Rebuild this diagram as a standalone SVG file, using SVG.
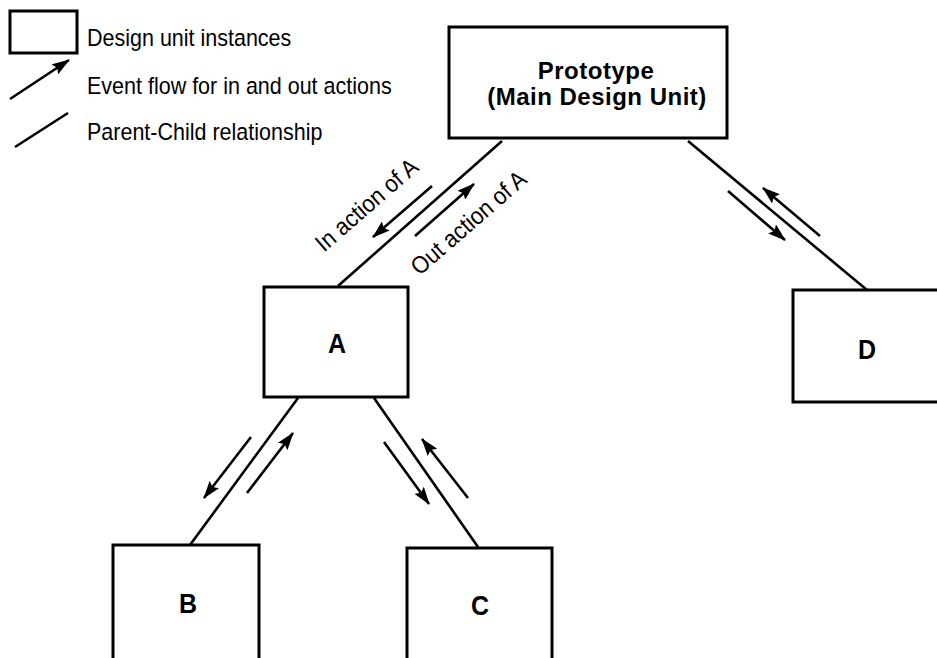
<svg xmlns="http://www.w3.org/2000/svg" width="937" height="658" viewBox="0 0 937 658">
  <style>
    .box { fill: #fff; stroke: #000; stroke-width: 3; }
    .link { stroke: #000; stroke-width: 2.6; fill: none; }
    .flow { stroke: #000; stroke-width: 2.6; fill: none; marker-end: url(#head); }
    .legend { font-family: "Liberation Sans", Arial, sans-serif; font-size: 21.5px; fill: #000; }
    .name { font-family: "Liberation Sans", Arial, sans-serif; font-size: 25px; font-weight: bold; fill: #000; text-anchor: middle; }
    .title { font-size: 24px; letter-spacing: 0.5px; }
    .edge { font-family: "Liberation Sans", Arial, sans-serif; font-size: 22px; fill: #000; text-anchor: middle; }
  </style>
  <defs>
    <marker id="head" markerUnits="userSpaceOnUse" markerWidth="20" markerHeight="12" refX="17" refY="6" orient="auto">
      <path d="M0,0 L18,6 L0,12 L3,6 z" fill="#000"/>
    </marker>
  </defs>
  <rect width="937" height="658" fill="#fff"/>

  <!-- legend -->
  <g id="legend">
    <rect class="box" x="10" y="11" width="67" height="42"/>
    <text class="legend" transform="translate(87,46) scale(1,1.1)">Design unit instances</text>
    <line class="flow" x1="10" y1="99" x2="69" y2="60"/>
    <text class="legend" transform="translate(87,94) scale(1,1.1)">Event flow for in and out actions</text>
    <line class="link" x1="15" y1="147" x2="68" y2="113"/>
    <text class="legend" transform="translate(87,140) scale(1,1.1)">Parent-Child relationship</text>
  </g>

  <!-- parent-child links and event flows -->
  <g id="connectors">
    <line class="link" x1="502" y1="141" x2="338" y2="286"/>
    <line class="link" x1="688" y1="141" x2="867" y2="290"/>
    <line class="link" x1="298" y1="398" x2="190" y2="545"/>
    <line class="link" x1="374" y1="398" x2="478" y2="547"/>

    <line class="flow" x1="432" y1="186" x2="373" y2="237"/>
    <line class="flow" x1="415" y1="236" x2="474" y2="184"/>
    <text class="edge" transform="translate(372,211) rotate(-41) scale(1,1.1)">In action of A</text>
    <text class="edge" transform="translate(474,229) rotate(-41) scale(1,1.1)">Out action of A</text>

    <line class="flow" x1="728" y1="191" x2="785" y2="240"/>
    <line class="flow" x1="820" y1="236" x2="763" y2="188"/>

    <line class="flow" x1="251" y1="437" x2="204" y2="498"/>
    <line class="flow" x1="247" y1="493" x2="293" y2="433"/>

    <line class="flow" x1="384" y1="442" x2="429" y2="504"/>
    <line class="flow" x1="468" y1="498" x2="422" y2="439"/>
  </g>

  <g id="prototype">
    <rect class="box" x="449" y="27" width="278" height="111"/>
    <text class="name title"><tspan x="596" y="79">Prototype</tspan><tspan x="597" y="105">(Main Design Unit)</tspan></text>
  </g>
  <g id="unit-a">
    <rect class="box" x="264" y="287" width="144" height="110"/>
    <text class="name" transform="translate(337,353) scale(1,1.1)">A</text>
  </g>
  <g id="unit-d">
    <rect class="box" x="793" y="290" width="146" height="112"/>
    <text class="name" transform="translate(867,359) scale(1,1.1)">D</text>
  </g>
  <g id="unit-b">
    <rect class="box" x="113" y="545" width="146" height="115"/>
    <text class="name" transform="translate(188,613) scale(1,1.1)">B</text>
  </g>
  <g id="unit-c">
    <rect class="box" x="407" y="548" width="145" height="112"/>
    <text class="name" transform="translate(480,615) scale(1,1.1)">C</text>
  </g>
</svg>
